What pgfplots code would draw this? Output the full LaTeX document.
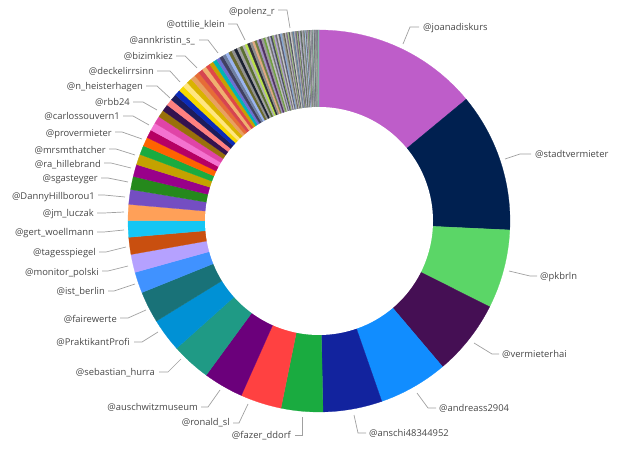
\documentclass[border=0pt]{standalone}
\usepackage{pgfplots}
\pgfplotsset{compat=1.18}
\usepackage{pgfplotstable}
\usepackage{fontspec}
\setmainfont{Open Sans}
\definecolor{lbl}{HTML}{474747}
\definecolor{lead}{HTML}{A0A0A0}
\def\slicecolors{BE5DC9,002050,5BD667,450F54,118DFF,12239E,1AAB40,FF4141,6B007B,1F9A85,0091D5,197278,4092FF,B5A1FF,C94F0F,15C6F4,FFA058,744EC2,25891C,99008A,C4A200,%
1AAB40,FF6300,B60064,F472D0,E044A7,99700A,34124F,FF8080,1C1C5C,0B2BB8,F5D800,FFE680,D9B300,E8A060,E66C37,D64550,F0B070,E04848,C8A000,00B5B5,6C70D0,404060,7080A0,9AB4F0,6A6A30,909090,1A2030,A0A0A0,5A7030,B0B0B0,B8E04A,303038,8C8C8C,E0A880,708040,A090C0,503060,9A9A9A,70A040,C0C0C0,%
6E6E6E,A8A8C8,4A4A5A,90B060,B0A0D0,707070,C8C8C8,5A5A70,88A8D0,9C9C9C,606050,B8B8B8,7A6A8A,A0C080,505060,D0D0D0,8A8A8A,6080A0,ACACAC,706080,98B878,5C5C5C,C0B8D8,808890,4C5A4C,B4B4B4,9090A8,707860,A8C8E8,606070,BCBCBC,8C7C9C,78A060,949494,5A6470,C4C4C4,7C7C8C,A4A4A4,686878,90C0A0,B0B0C0,585858,9898B0,7C9C7C,A8A8A8,6A6A80,C8D0C0,888888,707090,B4C4A4,9C9CAC,606060,90A0B0,7CC0A0}
\foreach \h [count=\k from 0] in \slicecolors {\edef\tmp{\noexpand\xglobal\noexpand\definecolor{s\k}{HTML}{\h}}\tmp}
% slice sizes (share of the ring, in degrees), clockwise from 12 o'clock
\pgfplotstableread{
idx v
0 50.4
1 42.3
2 24.0
3 23.0
4 21.1
5 18.0
6 12.7
7 12.5
8 12.2
9 12.0
10 10.2
11 9.6
12 6.4
13 5.5
14 5.2
15 5.0
16 4.9
17 4.5
18 4.0
19 3.7
20 3.2
21 2.8
22 2.7
23 2.5
24 2.4
25 2.3
26 2.2
27 2.1
28 2.0
29 1.9
30 1.8
31 1.7
32 1.6
33 1.6
34 1.5
35 1.5
36 1.4
37 1.4
38 1.3
39 1.3
40 1.2
41 1.1
42 1.1
43 1.0
44 1.0
45 1.0
46 0.9
47 0.9
48 0.9
49 0.9
50 0.8
51 0.8
52 0.8
53 0.8
54 0.7
55 0.7
56 0.7
57 0.7
58 0.7
59 0.6
60 0.6
61 0.5
62 0.5
63 0.5
64 0.5
65 0.5
66 0.5
67 0.5
68 0.5
69 0.5
70 0.5
71 0.4
72 0.4
73 0.4
74 0.4
75 0.4
76 0.4
77 0.4
78 0.4
79 0.4
80 0.4
81 0.3
82 0.3
83 0.3
84 0.3
85 0.3
86 0.3
87 0.3
88 0.3
89 0.3
90 0.3
91 0.2
92 0.2
93 0.2
94 0.2
95 0.2
96 0.2
97 0.2
98 0.2
99 0.2
100 0.2
101 0.2
102 0.2
103 0.1
104 0.1
105 0.1
106 0.1
107 0.1
108 0.1
109 0.1
110 0.1
111 0.1
112 0.1
113 0.1
114 0.2
}\slices
\newcommand\lblfont{\fontsize{9.4}{11}\selectfont}
\newcommand\lbR[5]{\draw[lead,line width=0.7pt] (#1)--(#2)--(#3); \node[anchor=mid west,inner sep=0pt,text=lbl,font=\lblfont] at (#4) {#5};}
\newcommand\lbL[5]{\draw[lead,line width=0.7pt] (#1)--(#2)--(#3); \node[anchor=mid east,inner sep=0pt,text=lbl,font=\lblfont] at (#4) {#5};}
\begin{document}
\begin{tikzpicture}
\useasboundingbox (0,0) rectangle (620pt,452pt);
\begin{axis}[x=1pt,y=1pt,xmin=0,xmax=620,ymin=0,ymax=452,hide axis,
  anchor=south west,at={(0pt,0pt)},clip=false,no markers]
\pgfplotstablegetrowsof{\slices}
\pgfmathtruncatemacro\N{\pgfplotsretval-1}
\gdef\cum{0}
\pgfplotsforeachungrouped \i in {0,...,\N}{%
  \pgfplotstablegetelem{\i}{v}\of\slices
  \let\val\pgfplotsretval
  \pgfmathsetmacro\a{\cum}%
  \pgfmathsetmacro\b{\cum+\val}%
  \pgfmathtruncatemacro\ns{max(2,ceil(\val/2)+1)}%
  \edef\doit{\noexpand\addplot[fill=s\i,draw=s\i,line width=0.25pt,domain=\a:\b,samples=\ns,variable=\noexpand\t] ({319+191*sin(\noexpand\t)},{231+191*cos(\noexpand\t)}) -- (axis cs:319,231) -- cycle;}%
  \doit
  \global\let\cum\b
}
\addplot[fill=white,draw=none,domain=0:360,samples=145] ({319+114*sin(x)},{231+114*cos(x)}) -- cycle;
\end{axis}
\begin{scope}[shift={(0pt,452pt)},x=1pt,y=-1pt]
\lbR{403,44}{410,27}{419,27}{423,28}{@joanadiskurs}
\lbR{505,159}{520,154}{531,154}{535,155}{@stadtvermieter}
\lbR{509,271}{530,276}{537,276}{540,277}{@pkbrln}
\lbR{474,343}{492,354}{499,354}{502,355}{@vermieterhai}
\lbR{417,393}{428,408}{436,408}{439,409}{@andreass2904}
\lbR{354,415}{358,433}{366,433}{369,434}{@anschi48344952}
\lbL{302,417}{302,435}{295,435}{291,436}{@fazer\_ddorf}
\lbL{248,404}{239,423}{233,423}{230,423}{@ronald\_sl}
\lbL{220,390}{208,407}{201,407}{198,408}{@auschwitzmuseum}
\lbL{181,359}{168,372}{159,372}{155,373}{@sebastian\_hurra}
\lbL{158,332}{142,342}{134,342}{130,343}{@PraktikantProfi}
\lbL{146,310}{128,318}{120,318}{117,320}{@fairewerte}
\lbL{135,284}{114,291}{108,291}{105,292}{@ist\_berlin}
\lbL{128,266}{108,271}{102,271}{99,273}{@monitor\_polski}
\lbL{126,247}{106,252}{99,252}{96,253}{@tagesspiegel}
\lbL{124,230}{104,232}{97,232}{94,233}{@gert\_woellmann}
\lbL{124,212}{104,213}{97,213}{94,214}{@jm\_luczak}
\lbL{125,197}{104,195}{98,195}{95,197}{@DannyHillborou1}
\lbL{128,182}{108,178}{101,178}{98,179}{@sgasteyger}
\lbL{131,168}{111,163}{104,163}{101,165}{@ra\_hillebrand}
\lbL{135,155}{116,149}{109,149}{106,151}{@mrsmthatcher}
\lbL{142,139}{122,132}{115,132}{112,134}{@provermieter}
\lbL{149,125}{133,116}{123,116}{120,117}{@carlossouvern1}
\lbL{157,110}{143,102}{133,102}{130,103}{@rbb24}
\lbL{170,98}{157,86}{146,86}{143,87}{@n\_heisterhagen}
\lbL{180,82}{170,71}{157,71}{154,72}{@deckelirrsinn}
\lbL{197,68}{185,56}{176,56}{173,57}{@bizimkiez}
\lbL{218,53}{208,40}{199,40}{195,41}{@annkristin\_s\_}
\lbL{245,40}{237,24}{228,24}{225,25}{@ottilie\_klein}
\lbL{290,28}{287,10}{278,10}{275,12}{@polenz\_r}
\end{scope}
\end{tikzpicture}
\end{document}
